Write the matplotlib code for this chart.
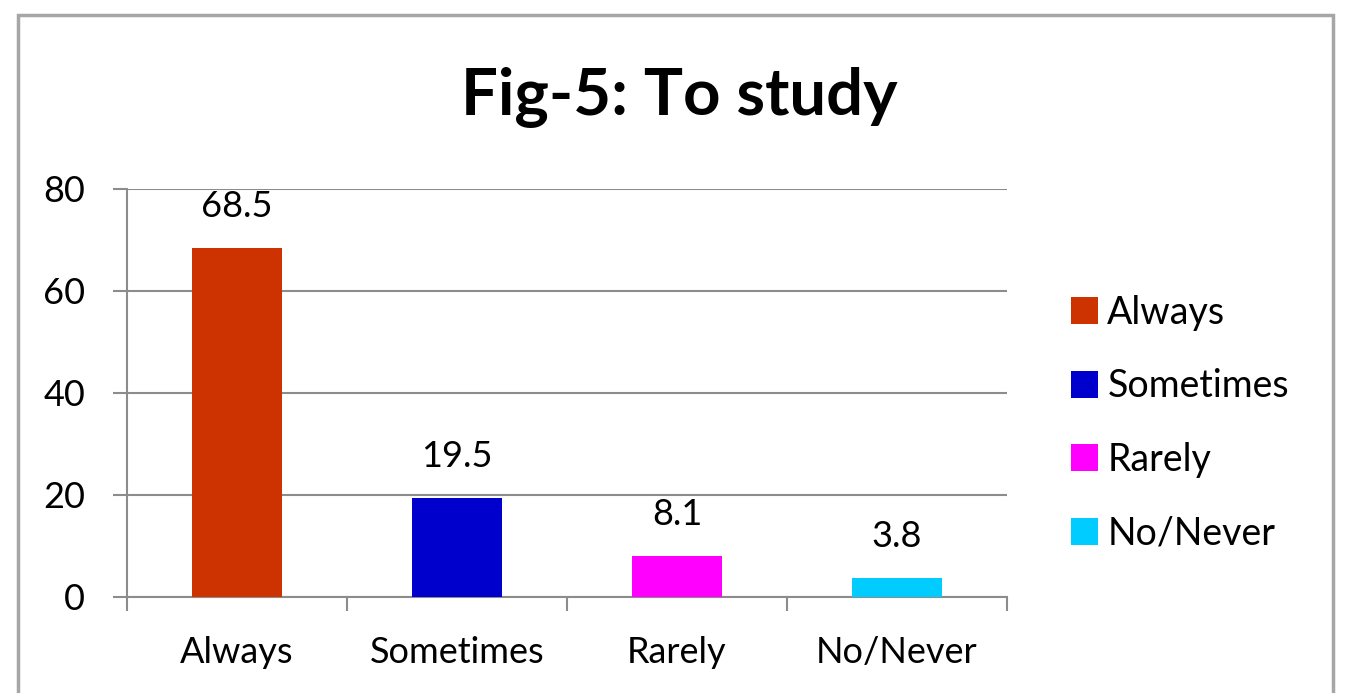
import matplotlib
matplotlib.use("Agg")
import matplotlib.pyplot as plt
from matplotlib.patches import Rectangle, Patch

categories = ["Always", "Sometimes", "Rarely", "No/Never"]
values = [68.5, 19.5, 8.1, 3.8]
colors = ["#CC3300", "#0000CC", "#FF00FF", "#00CCFF"]
yticks = [0, 20, 40, 60, 80]

plt.rcParams["font.family"] = ["Lato", "DejaVu Sans"]

fig = plt.figure(figsize=(13.6, 6.93), dpi=100)
fig.patches.append(Rectangle((18 / 1360, -0.05), 1315 / 1360, 1 - 15 / 693 + 0.05,
                             transform=fig.transFigure, fill=False,
                             edgecolor="#a6a6a6", linewidth=2.5))

ax = fig.add_axes([127 / 1360, 1 - 597 / 693, 880 / 1360, 408 / 693])
x = range(len(categories))
bars = ax.bar(x, values, width=0.41, color=colors, zorder=3)

ax.set_xlim(-0.5, 3.5)
ax.set_ylim(0, 80)
ax.set_yticks(yticks)
ax.set_yticklabels([str(v) for v in yticks], fontsize=26)
ax.grid(axis="y", color="#8c8c8c", linewidth=1.5, zorder=0)

# category labels between boundary tick marks
ax.set_xticks([-0.5, 0.5, 1.5, 2.5, 3.5])
ax.set_xticklabels([])
ax.set_xticks(list(x), minor=True)
ax.set_xticklabels(categories, minor=True, fontsize=26)
ax.tick_params(axis="x", which="minor", length=0, pad=28)
ax.tick_params(axis="x", which="major", length=10, width=1.5, color="#8c8c8c")
ax.tick_params(axis="y", length=10, width=1.5, color="#8c8c8c", pad=20)

for side in ["top", "right"]:
    ax.spines[side].set_visible(False)
for side in ["left", "bottom"]:
    ax.spines[side].set_color("#8c8c8c")
    ax.spines[side].set_linewidth(1.5)

for b, v in zip(bars, values):
    ax.annotate(f"{v}", (b.get_x() + b.get_width() / 2, v), xytext=(0, 18),
                textcoords="offset points", ha="center", va="bottom", fontsize=26)

fig.text(679 / 1360, 1 - 97 / 693, "Fig-5: To study", ha="center", va="center",
         fontsize=47, fontweight="bold")

handles = [Patch(facecolor=c) for c in colors]
fig.legend(handles, categories, loc="center left",
           bbox_to_anchor=(1071 / 1360, 1 - 423 / 693), frameon=False,
           fontsize=27, handlelength=0.72, handleheight=0.72, handletextpad=0.25,
           labelspacing=1.0, borderpad=0, borderaxespad=0)

fig.savefig("out.png", dpi=100)
